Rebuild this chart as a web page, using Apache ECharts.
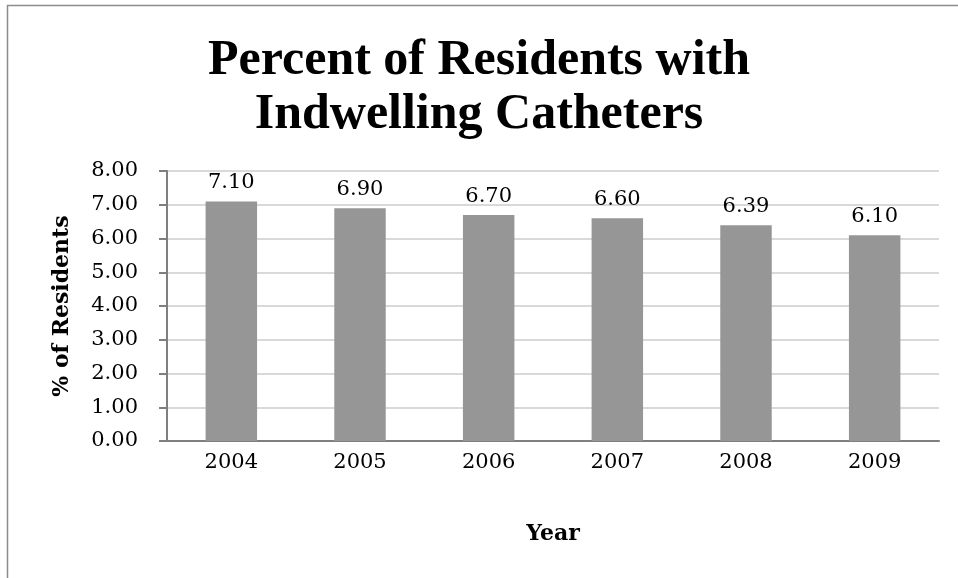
<!DOCTYPE html>
<html>
<head>
<meta charset="utf-8">
<script src="https://cdn.jsdelivr.net/npm/echarts@6/dist/echarts.min.js"></script>
<style>html,body{margin:0;padding:0;background:#fff}#c{width:958px;height:578px}</style>
</head>
<body>
<div id="c"></div>
<script>
const titleText = 'Percent of Residents with\nIndwelling Catheters';
const years = ['2004', '2005', '2006', '2007', '2008', '2009'];
const percentValues = [7.10, 6.90, 6.70, 6.60, 6.39, 6.10];
const yAxisName = '% of Residents';
const xAxisName = 'Year';

const chart = echarts.init(document.getElementById('c'), null, {renderer: 'canvas'});
chart.setOption({
  animation: false,
  backgroundColor: '#ffffff',
  title: {
    text: titleText,
    left: 'center',
    top: 29,
    textStyle: {
      fontFamily: 'Liberation Serif',
      fontWeight: 'bold',
      fontSize: 50,
      lineHeight: 54,
      color: '#000'
    }
  },
  graphic: [
    {type: 'line', shape: {x1: 7, y1: 5.5, x2: 958, y2: 5.5}, style: {stroke: '#8c8c8c', lineWidth: 1.5}},
    {type: 'line', shape: {x1: 7.5, y1: 5, x2: 7.5, y2: 578}, style: {stroke: '#8c8c8c', lineWidth: 1.5}}
  ],
  grid: {left: 167, right: 19, top: 171, bottom: 137, containLabel: false},
  xAxis: {
    type: 'category',
    data: years,
    name: xAxisName,
    nameLocation: 'middle',
    nameGap: 82,
    nameTextStyle: {fontFamily: 'DejaVu Serif', fontWeight: 'bold', fontSize: 22, color: '#000'},
    axisLine: {lineStyle: {color: '#7f7f7f', width: 2}},
    axisTick: {show: false},
    axisLabel: {fontFamily: 'DejaVu Serif', fontSize: 21, color: '#000', margin: 11}
  },
  yAxis: {
    type: 'value',
    min: 0, max: 8, interval: 1,
    name: yAxisName,
    nameLocation: 'middle',
    nameGap: 94,
    nameTextStyle: {fontFamily: 'DejaVu Serif', fontWeight: 'bold', fontSize: 22, color: '#000'},
    axisLine: {show: true, lineStyle: {color: '#7f7f7f', width: 2}},
    axisTick: {show: true, length: 8, inside: false, lineStyle: {color: '#7f7f7f', width: 2}},
    splitLine: {lineStyle: {color: '#d9d9d9', width: 2}},
    axisLabel: {fontFamily: 'DejaVu Serif', fontSize: 21, color: '#000', margin: 29,
      formatter: v => v.toFixed(2)}
  },
  series: [{
    type: 'bar',
    data: percentValues,
    barWidth: '40%',
    itemStyle: {color: '#969696'},
    label: {
      show: true,
      position: 'top',
      distance: 8,
      fontFamily: 'DejaVu Serif',
      fontSize: 21,
      color: '#000',
      formatter: p => p.value.toFixed(2)
    }
  }]
});
</script>
</body>
</html>
